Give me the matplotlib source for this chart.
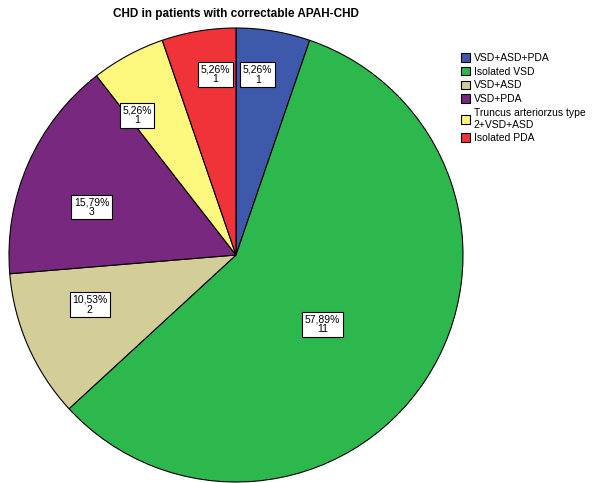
import numpy as np
import matplotlib
matplotlib.use("Agg")
import matplotlib.pyplot as plt
from matplotlib.patches import Patch

plt.rcParams['font.family'] = ['Liberation Sans', 'DejaVu Sans']

categories = ["VSD+ASD+PDA", "Isolated VSD", "VSD+ASD", "VSD+PDA",
              "Truncus arteriorzus type\n2+VSD+ASD", "Isolated PDA"]
counts = [1, 11, 2, 3, 1, 1]
colors = ["#3e58ac", "#2db84d", "#d3ce97", "#78287f", "#fbf87d", "#ef3338"]
# label placement inside each wedge: radius fraction and angular shift (deg)
label_radius = [0.80, 0.49, 0.68, 0.67, 0.755, 0.80]
label_shift = [2.6, -5.6, -4.9, 5.3, 6.9, -2.9]

W, H = 595, 483
fig = plt.figure(figsize=(W / 100, H / 100), dpi=100)
cx, cy, R = 236, 255, 227
ax = fig.add_axes([(cx - R) / W, (H - cy - R) / H, 2 * R / W, 2 * R / H])

wedges, _ = ax.pie(counts, colors=colors, startangle=90, counterclock=False,
                   radius=1.0, wedgeprops=dict(edgecolor="black", linewidth=0.8))
ax.set_xlim(-1, 1)
ax.set_ylim(-1, 1)
ax.set_aspect("equal")
ax.axis("off")

total = sum(counts)
for w, c, r, s in zip(wedges, counts, label_radius, label_shift):
    ang = np.deg2rad((w.theta1 + w.theta2) / 2 + s)
    pct = f"{c / total * 100:.2f}".replace(".", ",") + "%"
    ax.text(r * np.cos(ang), r * np.sin(ang), f"{pct}\n{c}", ha="center", va="center",
            fontsize=7.5, linespacing=0.95,
            bbox=dict(boxstyle="square,pad=0.25", fc="white", ec="black", lw=0.8))

fig.text(cx / W, 1 - 14 / H, "CHD in patients with correctable APAH-CHD",
         ha="center", va="center", fontsize=8.5, fontweight="bold")

handles = [Patch(facecolor=col, edgecolor="black", linewidth=0.8) for col in colors]
fig.legend(handles, categories, loc="upper left", bbox_to_anchor=(461 / W, 1 - 53 / H),
           frameon=False, fontsize=7.5, handlelength=0.9, handleheight=0.9,
           handletextpad=0.3, labelspacing=0.36, borderaxespad=0, borderpad=0)

fig.savefig("out.png", dpi=100)
